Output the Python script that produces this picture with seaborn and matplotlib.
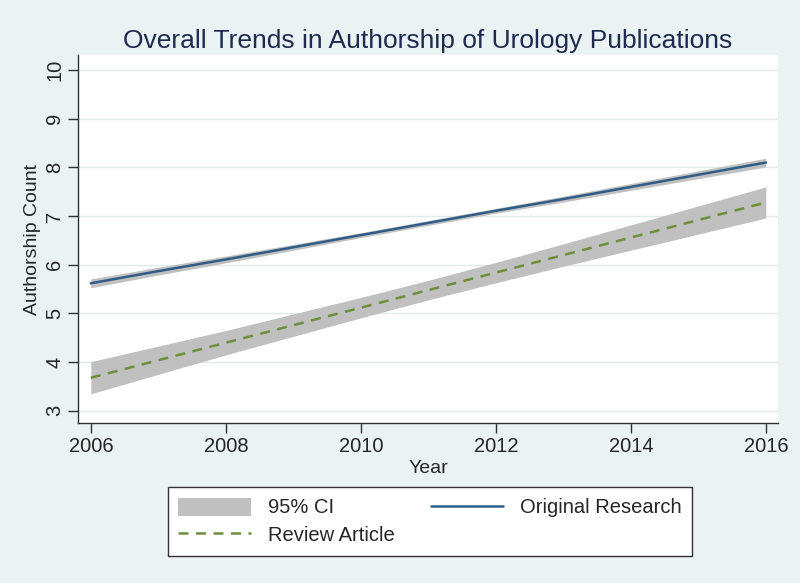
import numpy as np
import pandas as pd
import matplotlib
matplotlib.use("Agg")
import matplotlib.pyplot as plt
import seaborn as sns
from matplotlib.patches import Patch
from matplotlib.lines import Line2D

# values (fitted trend + 95% CI bounds per year)
years = [2006, 2007, 2008, 2009, 2010, 2011, 2012, 2013, 2014, 2015, 2016]
orig_fit = [5.62, 5.87, 6.11, 6.36, 6.61, 6.86, 7.11, 7.35, 7.60, 7.85, 8.10]
orig_lo = [5.53, 5.79, 6.04, 6.30, 6.56, 6.81, 7.06, 7.29, 7.53, 7.77, 8.01]
orig_hi = [5.71, 5.95, 6.18, 6.42, 6.66, 6.91, 7.16, 7.41, 7.67, 7.93, 8.19]
rev_fit = [3.68, 4.04, 4.40, 4.76, 5.12, 5.48, 5.84, 6.20, 6.56, 6.92, 7.28]
rev_lo = [3.35, 3.75, 4.15, 4.53, 4.91, 5.28, 5.63, 5.97, 6.30, 6.63, 6.96]
rev_hi = [4.01, 4.33, 4.65, 4.99, 5.33, 5.68, 6.05, 6.43, 6.82, 7.21, 7.60]

bg = "#EAF2F3"
blue = "#2F5D88"
green = "#6E8F3C"
ci_grey = "#C0C0C0"

df = pd.DataFrame({
    "Year": years + years,
    "Authorship Count": orig_fit + rev_fit,
    "Type": ["Original Research"] * len(years) + ["Review Article"] * len(years),
})

sns.set_style("white")
plt.rcParams["font.family"] = ["Liberation Sans", "DejaVu Sans"]

fig = plt.figure(figsize=(8, 5.83), dpi=100, facecolor=bg)
ax = fig.add_axes([0.0975, 0.2744, 0.875, 0.6313])
ax.set_facecolor("white")

# CI bands
ax.fill_between(years, orig_lo, orig_hi, color=ci_grey, linewidth=0, zorder=1)
ax.fill_between(years, rev_lo, rev_hi, color=ci_grey, linewidth=0, zorder=1)

sns.lineplot(data=df, x="Year", y="Authorship Count", hue="Type", style="Type",
             palette={"Original Research": blue, "Review Article": green},
             dashes={"Original Research": "", "Review Article": (4, 3)},
             linewidth=1.8, ax=ax, legend=False, zorder=3)

ax.set_xlim(2005.81, 2016.18)
ax.set_ylim(2.75, 10.31)
ax.set_xticks([2006, 2008, 2010, 2012, 2014, 2016])
ax.set_yticks(range(3, 11))
ax.grid(axis="y", color="#DDEBEB", linewidth=0.9)
ax.set_axisbelow(True)

for s in ["top", "right"]:
    ax.spines[s].set_visible(False)
for s in ["left", "bottom"]:
    ax.spines[s].set_color("#333333")
    ax.spines[s].set_linewidth(1.0)

ax.tick_params(axis="both", direction="out", length=7, width=1, color="#333333",
               labelsize=14.5, bottom=True, left=True, pad=3)
for lab in ax.get_yticklabels():
    lab.set_rotation(90)
    lab.set_va("center")

ax.set_xlabel("Year", fontsize=14, labelpad=3)
ax.set_ylabel("Authorship Count", fontsize=14, labelpad=3)
fig.suptitle("Overall Trends in Authorship of Urology Publications",
             x=0.535, y=0.95, fontsize=19, color="#1E2A4F")

handles = [
    Patch(facecolor=ci_grey, edgecolor="none", label="95% CI"),
    Line2D([], [], color=green, linestyle=(0, (4, 3)), linewidth=1.8, label="Review Article"),
    Line2D([], [], color=blue, linewidth=1.8, label="Original Research"),
]
leg = fig.legend(handles=handles, ncol=2, loc="center", bbox_to_anchor=(0.5375, 0.1055),
                 fontsize=14.5, frameon=True, fancybox=False, framealpha=1,
                 handlelength=3.6, handleheight=1.0, handletextpad=0.85,
                 columnspacing=1.8, borderpad=0.5, labelspacing=0.4)
leg.get_frame().set_edgecolor("#333333")
leg.get_frame().set_linewidth(1.0)
leg.get_frame().set_facecolor("white")

fig.savefig("out.png", dpi=100, facecolor=bg)
